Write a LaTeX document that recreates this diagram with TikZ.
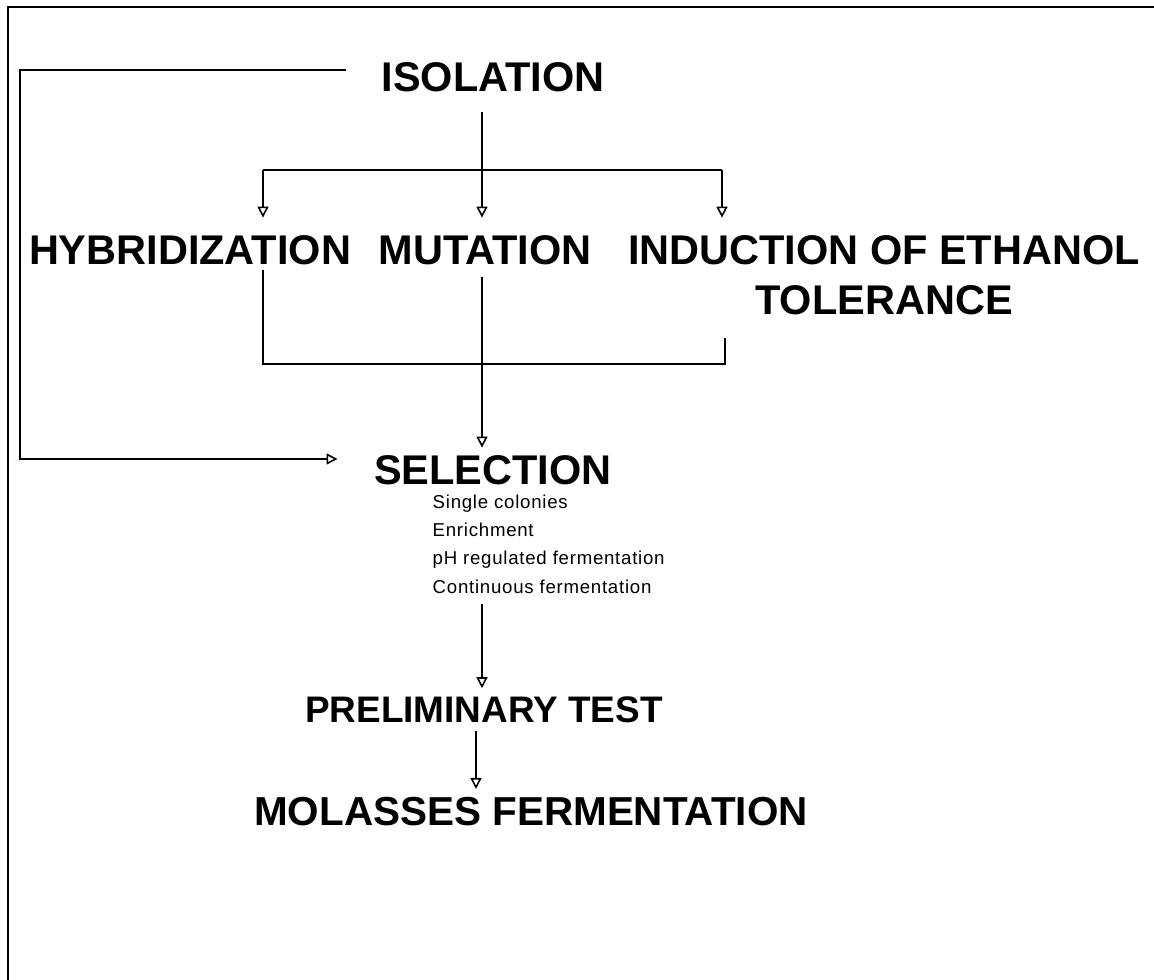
\documentclass[tikz,border=0pt]{standalone}
\usepackage{fontspec}
\setmainfont{Liberation Sans}
\newfontfamily\notefam[LetterSpace=4]{Liberation Sans}
\usetikzlibrary{arrows.meta, positioning}
\newcommand{\stagefont}{\bfseries\fontsize{11.8}{14.2}\selectfont}
\newcommand{\notefont}{\notefam\fontsize{5.3}{8.05}\selectfont}
\tikzset{
  stage/.style ={font=\stagefont, inner sep=0pt},
  stagesm/.style ={font=\bfseries\fontsize{10.5}{12.6}\selectfont, inner sep=0pt},
  stagemd/.style ={font=\bfseries\fontsize{11.5}{13.8}\selectfont, inner sep=0pt},
  note/.style  ={font=\notefont, inner sep=0pt, align=left},
  link/.style  ={line width=0.45pt},
  flow/.style  ={-{Triangle[open, length=1.1mm, width=1.1mm]}, line width=0.45pt},
  frame/.style ={line width=0.6pt},
}
\begin{document}
\begin{tikzpicture}[x=0.01cm, y=-0.01cm]
  \useasboundingbox (0,0) rectangle (1154,980);
  \draw[frame] (1154,7) -- (8,7) -- (8,980);

  \node[stage] (isol)   at (493,77)  {ISOLATION};
  \node[stage] (hyb)    at (190,250) {HYBRIDIZATION};
  \node[stage] (mut)    at (485,250) {MUTATION};
  \node[stage, align=center] (ind) at (884,275)
    {INDUCTION OF ETHANOL\\TOLERANCE};
  \node[stage] (sel)    at (493,470) {SELECTION};
  \node[note, anchor=north west] (list) at (432,494)
    {Single colonies\\Enrichment\\pH regulated fermentation\\Continuous fermentation};
  \node[stagesm] (prelim) at (484,710) {PRELIMINARY TEST};
  \node[stagemd] (mol)    at (531,812) {MOLASSES FERMENTATION};

  % branch and merge points
  \coordinate (split) at (482,170);
  \coordinate (brl) at (263,170);
  \coordinate (brr) at (722,170);
  \coordinate (mgl) at (263,364);
  \coordinate (mgr) at (725,364);
  \coordinate (fbt) at (20,70);
  \coordinate (fbb) at (20,459);

  \draw[flow, shorten <=2mm, shorten >=1.7mm] (isol.south -| split) -- (split |- mut.north);
  \draw[link] (brl) -- (brr);
  \draw[flow, shorten >=1.7mm] (brl) -- (brl |- hyb.north);
  \draw[flow, shorten >=1.7mm] (brr) -- (brr |- ind.north);
  \draw[link, shorten <=0.5mm, shorten >=2.3mm] (mgl |- hyb.south) -- (mgl) -- (mgr) -- (mgr |- ind.south);
  \draw[flow, shorten <=1.2mm, shorten >=0.7mm] (split |- mut.south) -- (split |- sel.north);
  \draw[flow] ([xshift=-3.5mm, yshift=0.7mm]isol.west) -- (fbt) -- (fbb)
    -- ([xshift=-3.6mm, yshift=1.1mm]sel.west);
  \draw[flow, shorten <=1mm, shorten >=0.8mm] (split |- list.south) -- (split |- prelim.north);
  \draw[flow, shorten <=0.7mm, shorten >=0.8mm] ([xshift=-0.8mm]prelim.south)
    -- ([xshift=-0.8mm]prelim.south |- mol.north);
\end{tikzpicture}
\end{document}
